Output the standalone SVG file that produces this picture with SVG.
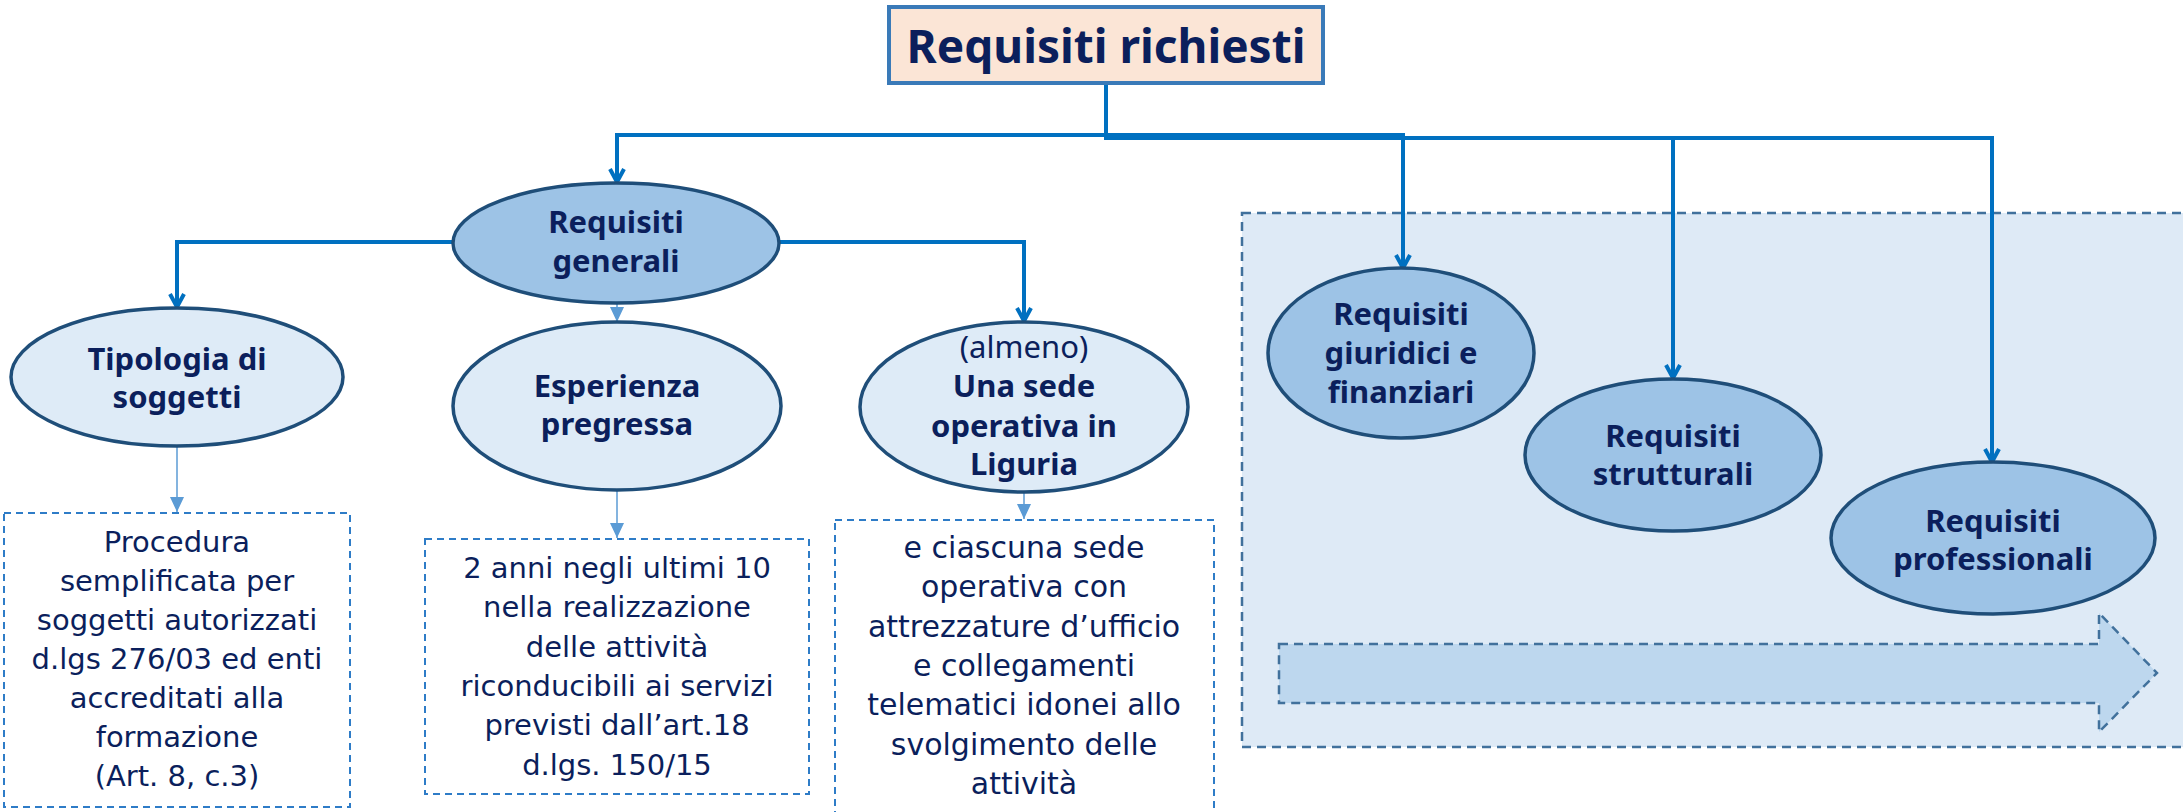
<svg xmlns="http://www.w3.org/2000/svg" width="2183" height="812" viewBox="0 0 2183 812">
<style>
.bg{fill:#ffffff}
.panel{fill:#deeaf6;stroke:#41719c;stroke-width:2.5;stroke-dasharray:9 6}
.bigarrow{fill:#bdd7ee;stroke:#41719c;stroke-width:2.5;stroke-dasharray:9 6}
.title{fill:#fbe5d6;stroke:#3a7ab8;stroke-width:4}
.dark{fill:#9dc3e6;stroke:#1f4e79;stroke-width:3.5}
.light{fill:#deebf7;stroke:#1f4e79;stroke-width:3.5}
.box{fill:#ffffff;stroke:#2e7cc7;stroke-width:2;stroke-dasharray:7 5}
.conn{fill:none;stroke:#0070c0;stroke-width:4}
.thin{fill:none;stroke:#5b9bd5;stroke-width:1.5}
text{fill:#0b1f5c;text-anchor:middle}
.tt{font-family:"Noto Sans","Liberation Sans",sans-serif;font-weight:bold;font-size:46px}
.lb{font-family:"Noto Sans","Liberation Sans",sans-serif;font-weight:bold;font-size:31px}
.lr{font-family:"Noto Sans","Liberation Sans",sans-serif;font-weight:normal;font-size:31px}
.bt{font-family:"DejaVu Sans","Liberation Sans",sans-serif;font-size:29px}
.bt3{font-family:"DejaVu Sans","Liberation Sans",sans-serif;font-size:30px}
</style>
<defs>
<marker id="open" markerUnits="userSpaceOnUse" orient="auto" refX="0" refY="0" markerWidth="20" markerHeight="20" overflow="visible">
<path d="M-13,-7 L0,0 L-13,7" fill="none" stroke="#0070c0" stroke-width="4" stroke-linejoin="miter"/>
</marker>
<marker id="tri" markerUnits="userSpaceOnUse" orient="auto" refX="0" refY="0" markerWidth="20" markerHeight="20" overflow="visible">
<path d="M-15,-7 L0,0 L-15,7 Z" fill="#5b9bd5"/>
</marker>
</defs>
<rect class="bg" x="0" y="0" width="2183" height="812"/>

<g id="panel">
<rect class="panel" x="1242" y="213" width="960" height="534"/>
<polygon class="bigarrow" points="1279,644 2099,644 2099,613 2157,673 2099,732 2099,703 1279,703"/>
</g>

<g id="connectors">
<path class="conn" d="M1106,83 V135 H617 V182" marker-end="url(#open)"/>
<path class="conn" d="M1106,83 V135 H1403 V268" marker-end="url(#open)"/>
<path class="conn" d="M1106,83 V138 H1673 V378" marker-end="url(#open)"/>
<path class="conn" d="M1106,83 V138 H1992 V462" marker-end="url(#open)"/>
<path class="conn" d="M453,242 H177 V307" marker-end="url(#open)"/>
<path class="conn" d="M780,242 H1024 V321" marker-end="url(#open)"/>
<path class="thin" d="M617,302 V322" marker-end="url(#tri)"/>
<path class="thin" d="M177,447 V512" marker-end="url(#tri)"/>
<path class="thin" d="M617,490 V538" marker-end="url(#tri)"/>
<path class="thin" d="M1024,492 V519" marker-end="url(#tri)"/>
</g>

<g id="node-title">
<rect class="title" x="889" y="7" width="434" height="76"/>
<text class="tt" x="1106" y="63">Requisiti richiesti</text>
</g>

<g id="node-generali">
<ellipse class="dark" cx="616" cy="243" rx="163" ry="60"/>
<text class="lb" x="616" y="233">Requisiti</text>
<text class="lb" x="616" y="272">generali</text>
</g>

<g id="node-tipologia">
<ellipse class="light" cx="177" cy="377" rx="166" ry="69"/>
<text class="lb" x="177" y="370">Tipologia di</text>
<text class="lb" x="177" y="408">soggetti</text>
</g>

<g id="node-esperienza">
<ellipse class="light" cx="617" cy="406" rx="164" ry="84"/>
<text class="lb" x="617" y="397">Esperienza</text>
<text class="lb" x="617" y="435">pregressa</text>
</g>

<g id="node-sede">
<ellipse class="light" cx="1024" cy="407" rx="164" ry="85"/>
<text class="lr" x="1024" y="358">(almeno)</text>
<text class="lb" x="1024" y="397">Una sede</text>
<text class="lb" x="1024" y="437">operativa in</text>
<text class="lb" x="1024" y="475">Liguria</text>
</g>

<g id="node-giuridici">
<ellipse class="dark" cx="1401" cy="353" rx="133" ry="85"/>
<text class="lb" x="1401" y="325">Requisiti</text>
<text class="lb" x="1401" y="364">giuridici e</text>
<text class="lb" x="1401" y="403">finanziari</text>
</g>

<g id="node-strutturali">
<ellipse class="dark" cx="1673" cy="455" rx="148" ry="76"/>
<text class="lb" x="1673" y="447">Requisiti</text>
<text class="lb" x="1673" y="485">strutturali</text>
</g>

<g id="node-professionali">
<ellipse class="dark" cx="1993" cy="538" rx="162" ry="76"/>
<text class="lb" x="1993" y="532">Requisiti</text>
<text class="lb" x="1993" y="570">professionali</text>
</g>

<g id="box-procedura">
<rect class="box" x="4" y="513" width="346" height="294"/>
<text class="bt" x="177" y="552">Procedura</text>
<text class="bt" x="177" y="591">semplificata per</text>
<text class="bt" x="177" y="630">soggetti autorizzati</text>
<text class="bt" x="177" y="669">d.lgs 276/03 ed enti</text>
<text class="bt" x="177" y="708">accreditati alla</text>
<text class="bt" x="177" y="747">formazione</text>
<text class="bt" x="177" y="786">(Art. 8, c.3)</text>
</g>

<g id="box-anni">
<rect class="box" x="425" y="539" width="384" height="255"/>
<text class="bt" x="617" y="578">2 anni negli ultimi 10</text>
<text class="bt" x="617" y="617">nella realizzazione</text>
<text class="bt" x="617" y="657">delle attività</text>
<text class="bt" x="617" y="696">riconducibili ai servizi</text>
<text class="bt" x="617" y="735">previsti dall’art.18</text>
<text class="bt" x="617" y="775">d.lgs. 150/15</text>
</g>

<g id="box-sede">
<rect class="box" x="835" y="520" width="379" height="310"/>
<text class="bt3" x="1024" y="558">e ciascuna sede</text>
<text class="bt3" x="1024" y="597">operativa con</text>
<text class="bt3" x="1024" y="637">attrezzature d’ufficio</text>
<text class="bt3" x="1024" y="676">e collegamenti</text>
<text class="bt3" x="1024" y="715">telematici idonei allo</text>
<text class="bt3" x="1024" y="755">svolgimento delle</text>
<text class="bt3" x="1024" y="794">attività</text>
</g>
</svg>
